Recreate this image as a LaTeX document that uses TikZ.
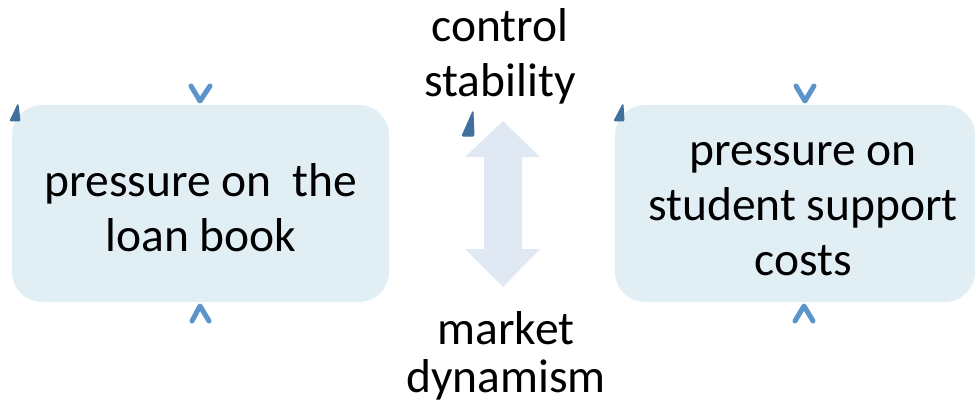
\documentclass[tikz,border=0pt]{standalone}
\usepackage{fontspec}
\setmainfont{Carlito}
\definecolor{boxfill}{RGB}{225,239,245}
\definecolor{arrowfill}{RGB}{223,232,243}
\definecolor{chev}{RGB}{91,147,203}
\definecolor{darktri}{RGB}{66,112,158}
\begin{document}
\begin{tikzpicture}[x=1pt,y=-1pt,
  box/.style={fill=boxfill,rounded corners=30pt,draw=none},
  lbl/.style={font=\fontsize{47.5}{55}\selectfont,align=center,inner sep=0pt},
  chevron/.style={draw=chev,line width=5pt,line cap=round,line join=round},
  tri/.style={fill=darktri,draw=darktri,line width=1pt,line join=round,rounded corners=1pt}]
\useasboundingbox (0,0) rectangle (979,409);
% boxes
\fill[box] (12,105) rectangle (389,302);
\fill[box] (615,105) rectangle (975,302);
\node[lbl] (lefttext) at (201,208) {pressure on\ \ the\\loan book};
\node[lbl] (righttext) at (803,209) {pressure on\\student support\\costs};
% double arrow
\fill[arrowfill] (503,121) -- (540,157) -- (522,157) -- (522,249) -- (540,249) -- (503,287)
  -- (465,249) -- (484,249) -- (484,157) -- (465,157) -- cycle;
% labels
\node[lbl] (ctrl) at (500,56) {control\\stability};
\node[lbl] (mkt) at (506,356) {market\\[-7pt]dynamism};
% chevrons
\draw[chevron] (191,86) -- (200,101) -- (210,86);
\draw[chevron] (192,321) -- (200,306) -- (209,321);
\draw[chevron] (796,86) -- (805,101) -- (814,86);
\draw[chevron] (795,321) -- (804,306) -- (813,321);
% dark triangles
\filldraw[tri] (18,104) -- (20,121) -- (10,121) -- cycle;
\filldraw[tri] (623,104) -- (624,121) -- (614,121) -- cycle;
\filldraw[tri] (473,111) -- (474,136) -- (462,136) -- cycle;
\end{tikzpicture}
\end{document}
